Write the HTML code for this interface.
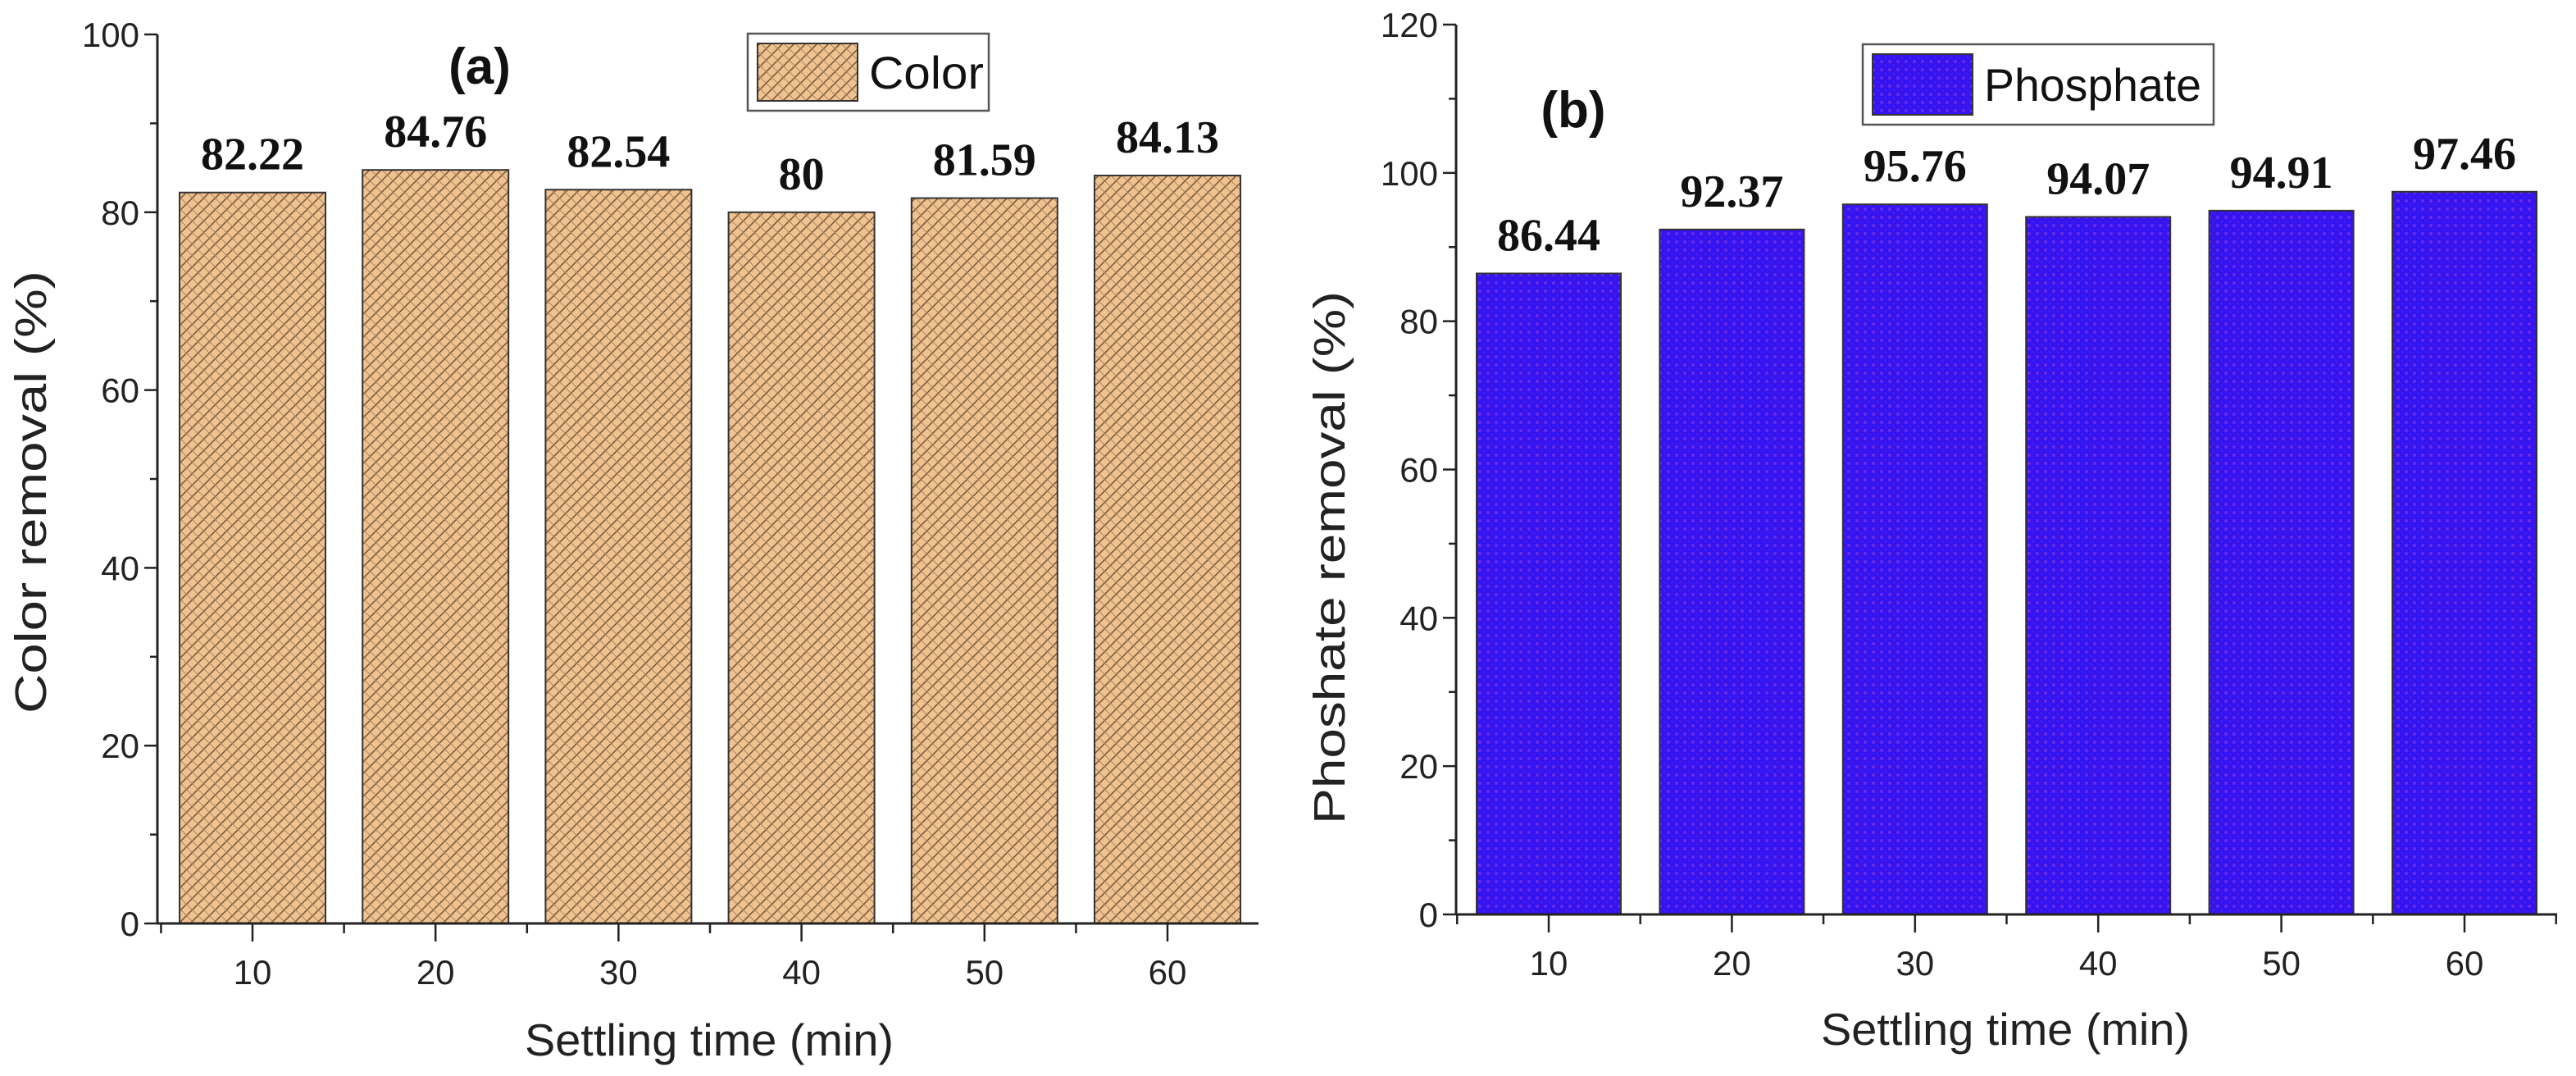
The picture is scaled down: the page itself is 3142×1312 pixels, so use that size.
<!DOCTYPE html>
<html><head><meta charset="utf-8"><style>
html,body{margin:0;padding:0;background:#fff;overflow:hidden;}
svg{display:block;font-family:"Liberation Sans",sans-serif;}
</style></head><body>
<svg id="chart" width="3142" height="1312" viewBox="0 0 3142 1312" xmlns="http://www.w3.org/2000/svg">
<defs>
<pattern id="tan" width="14" height="14" patternUnits="userSpaceOnUse">
<rect width="14" height="14" fill="#efc290"/>
<path d="M0 14 L14 0 M-3 3 L3 -3 M11 17 L17 11" stroke="#7a5a3a" stroke-width="1.6"/>
<path d="M0 7 L7 14 M7 0 L14 7" stroke="#a98560" stroke-width="1"/>
</pattern>
<pattern id="blue" width="10" height="10" patternUnits="userSpaceOnUse">
<rect width="10" height="10" fill="#3414f0"/>
<circle cx="5" cy="5" r="2" fill="#6a2ae8"/>
<circle cx="0" cy="0" r="1.5" fill="#5a22ec"/>
<circle cx="10" cy="10" r="1.5" fill="#5a22ec"/>
</pattern>
</defs>
<g id="pa"></g>
<g id="pb"></g>
</svg>
<script>
const categories = ["10","20","30","40","50","60"];
const colorValues = [82.22,84.76,82.54,80,81.59,84.13];
const colorLabels = ["82.22","84.76","82.54","80","81.59","84.13"];
const phosValues = [86.44,92.37,95.76,94.07,94.91,97.46];
const phosLabels = ["86.44","92.37","95.76","94.07","94.91","97.46"];
const colorTicks = [0,20,40,60,80,100];
const phosTicks = [0,20,40,60,80,100,120];

const NS="http://www.w3.org/2000/svg";
function mk(parent,tag,attrs,text){const e=document.createElementNS(NS,tag);for(const k in attrs)e.setAttribute(k,attrs[k]);if(text!==undefined)e.textContent=text;parent.appendChild(e);return e;}

function panel(g,cfg){
  const {ax,ay0,ay1,ymax,axEnd,x0,dx,bw,vals,labels,ticks,fill,ytitle,ytx,ytLen,lab,labx,laby,leg,legText,legLen,prefix}=cfg;
  const ys=v=>ay0-(ay0-ay1)*v/ymax;
  const xs=i=>x0+dx*i;
  vals.forEach((v,i)=>{
    const r=mk(g,'rect',{x:xs(i)-bw/2,y:ys(v),width:bw,height:ay0-ys(v),fill:fill,stroke:'#333',"stroke-width":2});
    
    
    const t=mk(g,'text',{x:xs(i),y:ys(v)-28,"text-anchor":"middle","font-family":"Liberation Serif, serif","font-weight":"bold","font-size":56,fill:"#111"},labels[i]);
    
    
  });
  const yl=mk(g,'line',{x1:ax,y1:ay0,x2:ax,y2:ay1,stroke:'#222',"stroke-width":3});
  
  const xl=mk(g,'line',{x1:ax,y1:ay0,x2:axEnd,y2:ay0,stroke:'#222',"stroke-width":3});
  
  const step=ticks[1]-ticks[0];
  for(let v=0;v<=ymax+0.001;v+=step/2){
    const major=Math.abs(v/step-Math.round(v/step))<0.01;
    mk(g,'line',{x1:ax,y1:ys(v),x2:ax-(major?16:9),y2:ys(v),stroke:'#222',"stroke-width":2.5});
  }
  ticks.forEach(v=>{
    const t=mk(g,'text',{x:ax-22,y:ys(v)+15,"text-anchor":"end","font-size":42,fill:"#222"},String(v));
    
  });
  for(let i=-0.5;i<=5.5;i+=0.5){
    const x=xs(i); if(x<ax||x>axEnd)continue;
    const major=Number.isInteger(i);
    mk(g,'line',{x1:x,y1:ay0,x2:x,y2:ay0+(major?22:12),stroke:'#222',"stroke-width":2.5});
  }
  categories.forEach((c,i)=>{
    const t=mk(g,'text',{x:xs(i),y:ay0+74,"text-anchor":"middle","font-size":42,fill:"#222"},c);
    
  });
  const xt=mk(g,'text',{x:cfg.xtx,y:cfg.xty,"text-anchor":"middle","font-size":55,fill:"#222",textLength:450,lengthAdjust:"spacingAndGlyphs"},"Settling time (min)");
  
  const yt=mk(g,'text',{x:0,y:0,"text-anchor":"middle","font-size":54,fill:"#222",textLength:ytLen,lengthAdjust:"spacingAndGlyphs",transform:`translate(${ytx},${cfg.yty}) rotate(-90)`},ytitle);
  
  const pl=mk(g,'text',{x:labx,y:laby,"text-anchor":"middle","font-weight":"bold","font-size":62,fill:"#111"},lab);
  
  const lg=mk(g,'g',{});
  
  mk(lg,'rect',{x:leg[0],y:leg[1],width:leg[2],height:leg[3],fill:'#fff',stroke:'#555',"stroke-width":2.5});
  mk(lg,'rect',{x:leg[0]+12,y:leg[1]+12,width:122,height:leg[3]-24,fill:fill,stroke:'#333',"stroke-width":2});
  mk(lg,'text',{x:leg[0]+148,y:leg[1]+leg[3]/2+20,"font-size":56,fill:"#111",textLength:legLen,lengthAdjust:"spacingAndGlyphs"},legText);
}
panel(document.getElementById('pa'),{prefix:'a',ax:192,ay0:1126,ay1:42,ymax:100,axEnd:1535,x0:308,dx:223.2,bw:178,vals:colorValues,labels:colorLabels,ticks:colorTicks,fill:'url(#tan)',ytitle:'Color removal (%)',ytx:56,yty:600,ytLen:540,lab:'(a)',labx:585,laby:102,leg:[912,41,294,94],legText:'Color',legLen:140,xtx:865,xty:1287});
panel(document.getElementById('pb'),{prefix:'b',ax:1776,ay0:1115,ay1:30,ymax:120,axEnd:3119,x0:1889,dx:223.4,bw:176,vals:phosValues,labels:phosLabels,ticks:phosTicks,fill:'url(#blue)',ytitle:'Phoshate removal (%)',ytx:1640,yty:680,ytLen:650,lab:'(b)',labx:1919,laby:155,leg:[2272,54,428,98],legText:'Phosphate',legLen:265,xtx:2446,xty:1274});
</script>
</body></html>
